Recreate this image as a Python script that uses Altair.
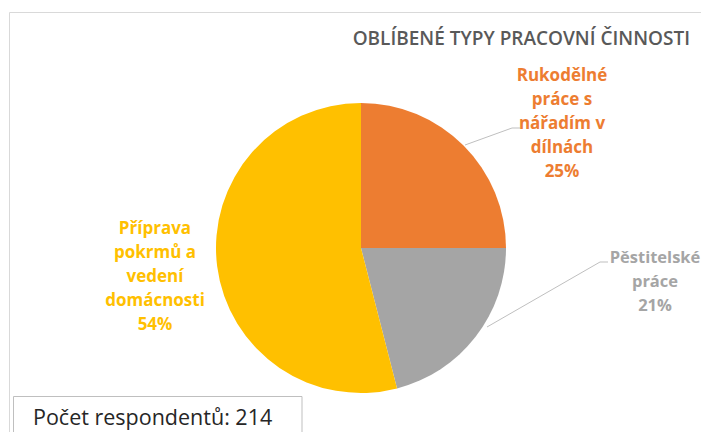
import altair as alt
import pandas as pd

# ---- data ----
categories = [
    "Rukodělné\npráce s\nnářadím v\ndílnách",
    "Pěstitelské\npráce",
    "Příprava\npokrmů a\nvedení\ndomácnosti",
]
shares = [25, 21, 54]
colors = ["#ED7D31", "#A5A5A5", "#FFC000"]
title_text = "OBLÍBENÉ TYPY PRACOVNÍ ČINNOSTI"
respondents = 214

df = pd.DataFrame({
    "category": categories,
    "share": shares,
    "order": [0, 1, 2],
})
df["label"] = [f"{c}\n{s}%" for c, s in zip(categories, shares)]

color_scale = alt.Scale(domain=categories, range=colors)
base = alt.Chart(df)
one = alt.Chart(pd.DataFrame({"k": [0]}))

# outer frame
frame = one.mark_rect(fillOpacity=0, stroke="#d9d9d9", strokeWidth=1).encode(
    x=alt.value(1.5), x2=alt.value(760), y=alt.value(4.5), y2=alt.value(480)
)

pie = base.mark_arc(outerRadius=145).encode(
    theta=alt.Theta("share:Q", stack=True),
    color=alt.Color("category:N", scale=color_scale, legend=None),
    order=alt.Order("order:Q"),
    x=alt.value(353),
    y=alt.value(240),
)

title = one.mark_text(
    align="right", baseline="alphabetic", font="Open Sans", fontSize=19,
    fontWeight=600, color="#595959"
).encode(text=alt.value(title_text), x=alt.value(682), y=alt.value(37))


def label(i, x, y, size=17):
    return base.transform_filter(alt.datum.order == i).mark_text(
        align="center", baseline="alphabetic", lineBreak="\n", lineHeight=24,
        font="Open Sans", fontSize=size, fontWeight="bold"
    ).encode(
        text="label:N",
        color=alt.Color("category:N", scale=color_scale, legend=None),
        x=alt.value(x), y=alt.value(y),
    )


labels = [label(0, 554, 73), label(1, 647, 255, 16.5), label(2, 147, 226)]


def rule(x1, y1, x2, y2):
    return one.mark_rule(color="#bfbfbf", strokeWidth=1).encode(
        x=alt.value(x1), y=alt.value(y1), x2=alt.value(x2), y2=alt.value(y2)
    )


leaders = [
    rule(457, 137, 504, 120), rule(504, 120, 512, 120),
    rule(479, 319, 592, 254), rule(592, 254, 600, 254),
]

box = one.mark_rect(fill="white", stroke="#bfbfbf", strokeWidth=1).encode(
    x=alt.value(5.5), x2=alt.value(294), y=alt.value(388.5), y2=alt.value(480)
)
note = one.mark_text(
    align="left", baseline="alphabetic", font="Open Sans", fontSize=21.5,
    color="#262626"
).encode(text=alt.value(f"Počet respondentů: {respondents}"),
         x=alt.value(25), y=alt.value(417))

chart = alt.layer(frame, pie, title, *labels, *leaders, box, note).properties(
    width=693, height=424, padding=0, autosize=alt.AutoSizeParams(type="none"),
    background="white"
).configure_view(stroke=None)

chart.save("out.html", embed_options={"renderer": "svg", "actions": False})
